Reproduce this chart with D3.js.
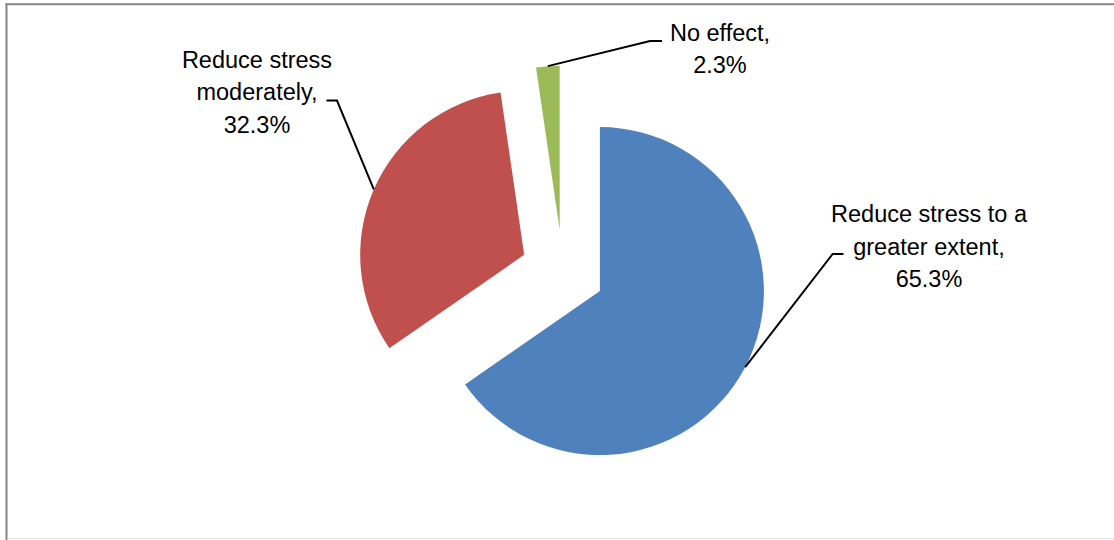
<!DOCTYPE html>
<html><head><meta charset="utf-8">
<script src="https://cdn.jsdelivr.net/npm/d3@7"></script>
<style>body{margin:0;background:#fff}svg{display:block}</style>
</head><body>
<svg id="c" width="1114" height="540"></svg>
<script>
const categories = ["Reduce stress to a greater extent", "Reduce stress moderately", "No effect"];
const values = [65.3, 32.3, 2.3];
const valueLabels = ["65.3%", "32.3%", "2.3%"];
const labelLines = [["Reduce stress to a", "greater extent,", "65.3%"], ["Reduce stress", "moderately,", "32.3%"], ["No effect,", "2.3%"]];
const colors = ["#4F81BD", "#C0504D", "#9BBB59"];

// layout (not data)
const W = 1114, H = 540;
const cx = 562.7, cy = 271.6, R = 164, explode = 42;
const labelPos = [
  {x: 929, y: 222, elbow: [832.7, 254], end: [843.5, 254]},
  {x: 257, y: 67.5, elbow: [337, 100.5], end: [326.5, 100.5]},
  {x: 720, y: 40.5, elbow: [650, 41], end: [662, 41]}
];
const lineH = 32.5;

const svg = d3.select("#c");
// frame
svg.append("line").attr("x1", 6.5).attr("x2", 6.5).attr("y1", 3.5).attr("y2", 540).attr("stroke", "#868686").attr("stroke-width", 2);
svg.append("line").attr("x1", 5.5).attr("x2", W).attr("y1", 4.3).attr("y2", 4.3).attr("stroke", "#868686").attr("stroke-width", 2);
svg.append("line").attr("x1", 7.5).attr("x2", W).attr("y1", 538.5).attr("y2", 538.5).attr("stroke", "#e4e4e4").attr("stroke-width", 1);

const pie = d3.pie().sort(null).value(d => d)(values);
const arc = d3.arc().innerRadius(0).outerRadius(R);

const g = svg.append("g").attr("transform", `translate(${cx},${cy})`);
pie.forEach((p, i) => {
  const mid = (p.startAngle + p.endAngle) / 2;
  const dx = Math.sin(mid) * explode, dy = -Math.cos(mid) * explode;
  g.append("path").attr("d", arc(p)).attr("fill", colors[i])
    .attr("transform", `translate(${dx},${dy})`);
  const sx = cx + dx + Math.sin(mid) * R, sy = cy + dy - Math.cos(mid) * R;
  const L = labelPos[i];
  svg.append("polyline")
    .attr("points", [[sx, sy], L.elbow, L.end].map(q => q.join(",")).join(" "))
    .attr("fill", "none").attr("stroke", "#000").attr("stroke-width", 2);
  const t = svg.append("text").attr("text-anchor", "middle")
    .attr("font-family", "Liberation Sans, Arial, sans-serif").attr("font-size", 23.5).attr("fill", "#000");
  labelLines[i].forEach((s, j) => {
    t.append("tspan").attr("x", L.x).attr("y", L.y + j * lineH).text(s);
  });
});
</script>
</body></html>
